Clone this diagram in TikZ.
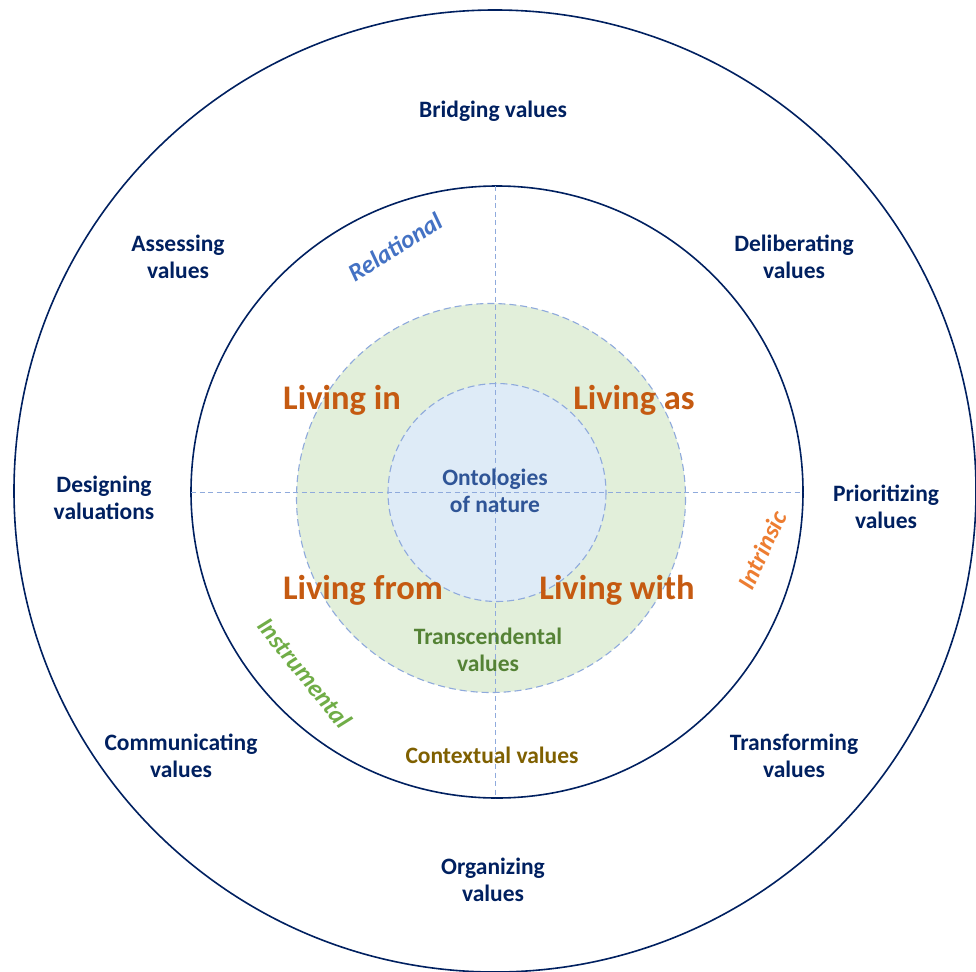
\documentclass[tikz,border=0pt]{standalone}
\usepackage{fontspec}
\setmainfont{Carlito}
\usetikzlibrary{positioning}
\tikzstyle{canvas} = [x = 1pt, y = -1pt]
\definecolor{navyColor}{RGB}{0,32,96}
\definecolor{dashColor}{RGB}{143,170,220}
\definecolor{ringGreen}{RGB}{226,239,218}
\definecolor{ringBlue}{RGB}{222,235,247}
\definecolor{livingColor}{RGB}{197,90,17}
\definecolor{ontologyColor}{RGB}{47,85,151}
\definecolor{transColor}{RGB}{84,130,53}
\definecolor{contextColor}{RGB}{127,96,0}
\definecolor{relationalColor}{RGB}{68,114,196}
\definecolor{instrumentalColor}{RGB}{112,173,71}
\definecolor{intrinsicColor}{RGB}{237,125,49}
\tikzstyle{ringLine} = [color=navyColor, line width=1.6pt]
\tikzstyle{dashedRing} = [draw=dashColor, line width=1.1pt, dash pattern=on 7pt off 4pt]
\tikzstyle{axisLine} = [color=dashColor, line width=1pt, dash pattern=on 5pt off 3.5pt]
\tikzstyle{valueText} = [font=\bfseries\fontsize{23.5}{27.5}\selectfont, align=center, text=navyColor, inner sep=0pt]
\tikzstyle{livingText} = [font=\bfseries\fontsize{34.5}{40}\selectfont, text=livingColor, inner sep=0pt]
\tikzstyle{kindText} = [font=\bfseries\itshape\fontsize{25}{29}\selectfont, inner sep=0pt]
\newcommand{\valueLabel}[3]{\node [valueText] (#1) at (#2) {#3};}
\newcommand{\livingLabel}[3]{\node [livingText] (#1) at (#2) {#3};}

\begin{document}
\begin{tikzpicture}[canvas]
  \useasboundingbox (0,0) rectangle (976,971);
  % rings
  \draw [ringLine] (495,491) circle (481);
  \draw [ringLine, fill=white] (497,492) circle (306);
  \filldraw [dashedRing, fill=ringGreen] (491,498) circle (194.5);
  \filldraw [dashedRing, fill=ringBlue] (497,492.5) circle (109);
  % axes
  \draw [axisLine] (191,492.5) -- (803,492.5);
  \draw [axisLine] (495.5,186) -- (495.5,798);

  % outer ring
  \valueLabel{bridging}{493,111}{Bridging values}
  \valueLabel{assessing}{178,257}{Assessing\\values}
  \valueLabel{deliberating}{794,257}{Deliberating\\values}
  \valueLabel{designing}{104,498}{Designing\\valuations}
  \valueLabel{prioritizing}{886,507}{Prioritizing\\values}
  \valueLabel{communicating}{181,756}{Communicating\\values}
  \valueLabel{transforming}{794,756}{Transforming\\values}
  \valueLabel{organizing}{493,880}{Organizing\\values}

  % middle ring
  \livingLabel{livingIn}{342,400}{Living in}
  \livingLabel{livingAs}{634,400}{Living as}
  \livingLabel{livingFrom}{363,590}{Living from}
  \livingLabel{livingWith}{617,590}{Living with}
  \node [valueText, text=ontologyColor] (ontologies) at (495,491) {Ontologies\\of nature};
  \node [valueText, text=transColor] (transcendental) at (488,650) {Transcendental\\values};
  \node [valueText, text=contextColor] (contextual) at (492,755) {Contextual values};

  % kinds of values
  \node [kindText, text=relationalColor, rotate=32] (relational) at (395,247) {Relational};
  \node [kindText, text=instrumentalColor, rotate=-51] (instrumental) at (305,673) {Instrumental};
  \node [kindText, text=intrinsicColor, rotate=65] (intrinsic) at (762,550) {Intrinsic};
\end{tikzpicture}
\end{document}
